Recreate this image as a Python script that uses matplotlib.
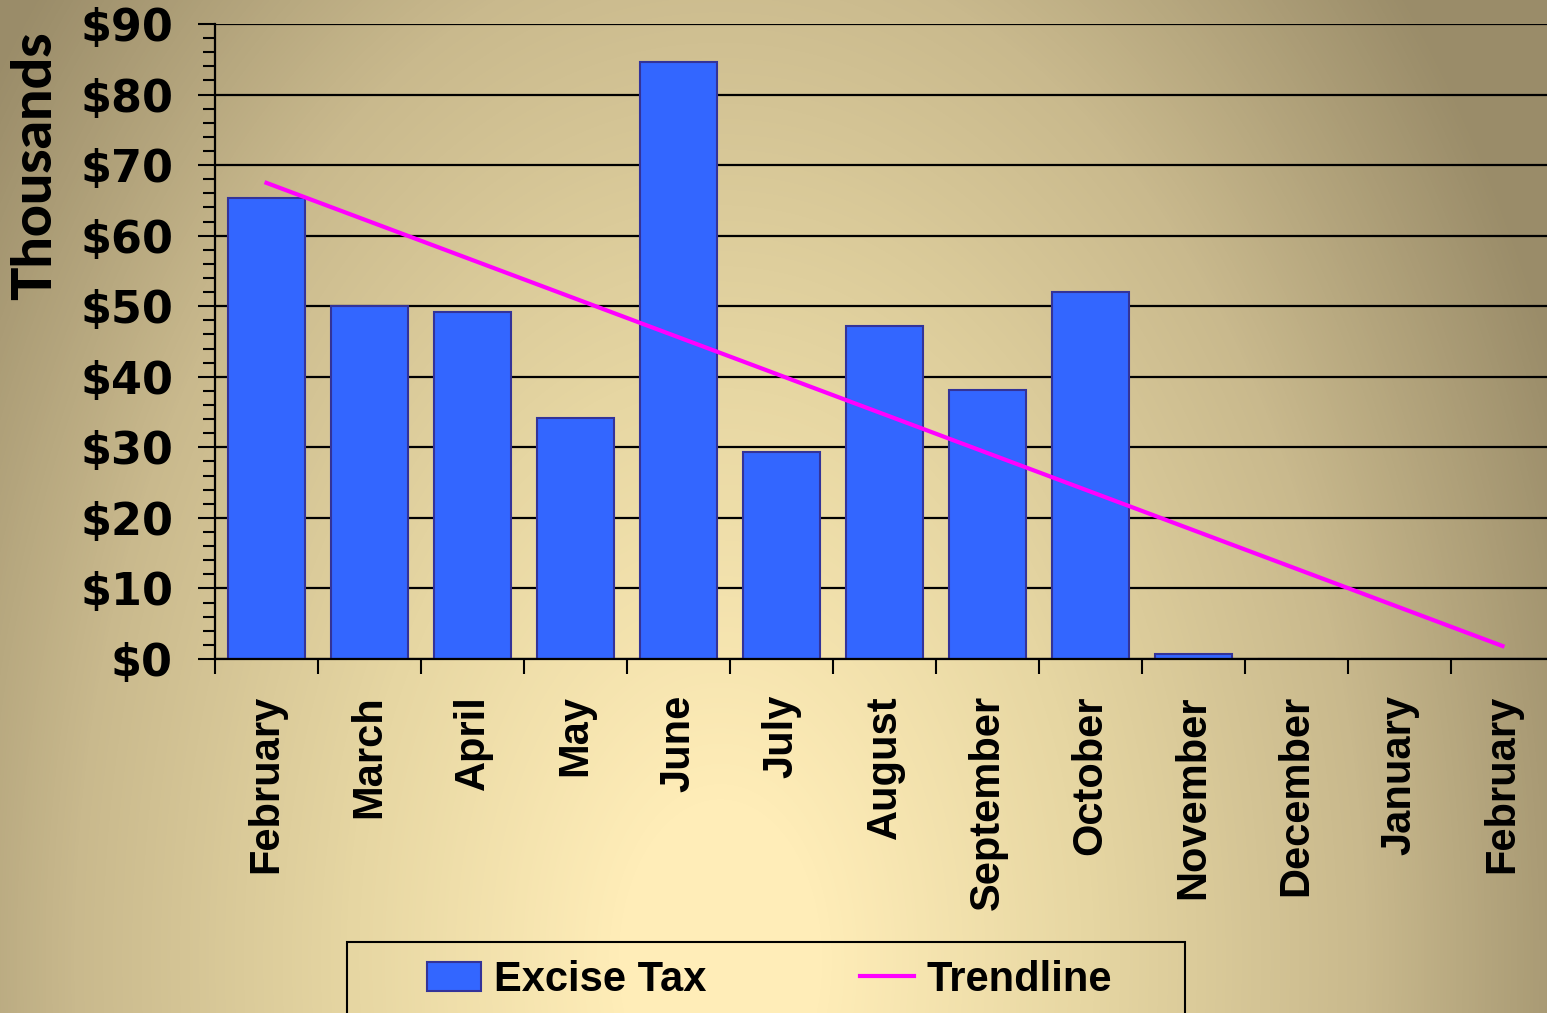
import numpy as np
import matplotlib.pyplot as plt
from matplotlib.colors import LinearSegmentedColormap
from matplotlib.patches import Patch, Rectangle
from matplotlib.lines import Line2D

# data (thousands of dollars)
months = ["February", "March", "April", "May", "June", "July", "August",
          "September", "October", "November", "December", "January", "February"]
excise_tax = [65.3, 50.0, 49.2, 34.2, 84.6, 29.3, 47.2, 38.1, 52.0, 0.7, 0.0, 0.0, 0.0]
y_ticks = [0, 10, 20, 30, 40, 50, 60, 70, 80, 90]
y_labels = ["$" + str(v) for v in y_ticks]

W, H = 1547, 1013
PX = 72 / 100  # points per pixel at dpi 100
fig = plt.figure(figsize=(W / 100, H / 100), dpi=100)

# background gradient (elliptical, bright near bottom centre)
bg = fig.add_axes([0, 0, 1, 1])
xx, yy = np.meshgrid(np.arange(W), np.arange(H))
d = np.sqrt(((xx - 720) / 820.0) ** 2 + ((yy - 960) / 1300.0) ** 2)
t = np.clip((d - 0.12) / 1.0, 0, 1)
cmap = LinearSegmentedColormap.from_list("bg", ["#FFEDB8", "#E6D6A2", "#C9B98D", "#9A8C69"])
bg.imshow(t, cmap=cmap, vmin=0, vmax=1, aspect="auto", interpolation="bilinear")
bg.axis("off")

# plot area: left 215px, right edge of figure, top y=24, bottom y=659
ax = fig.add_axes([215 / W, 1 - 659 / H, 1 - 215 / W, (659 - 24) / H])
ax.patch.set_alpha(0)

x = np.arange(len(months))
ax.bar(x, excise_tax, width=0.75, color="#3366FF", edgecolor="#333399", linewidth=1.5, zorder=3)

# linear trendline fitted to the series
slope, intercept = np.polyfit(x, excise_tax, 1)
ax.plot(x, slope * x + intercept, color="#FF00FF", linewidth=3, zorder=4)

ax.set_ylim(0, 90)
ax.set_xlim(-0.5, 12.5 - 7 / 103)
ax.set_yticks(y_ticks)
ax.set_yticklabels(y_labels, fontfamily="DejaVu Sans", fontweight="bold", fontsize=32)
ax.set_yticks(np.arange(0, 91, 2), minor=True)
for v in y_ticks:
    ax.axhline(v, color="black", linewidth=1.6, zorder=1)

ax.set_xticks(x)
ax.set_xticklabels(months, rotation=90, fontfamily="Liberation Sans", fontweight="bold",
                   fontsize=30, va="top")
ax.set_xticks(np.arange(-0.5, 12, 1), minor=True)
ax.tick_params(axis="x", which="major", length=0, pad=36 * PX)
ax.tick_params(axis="x", which="minor", length=15 * PX, width=1.5, direction="out")
ax.tick_params(axis="y", which="major", length=17 * PX, width=1.5, direction="out", pad=25 * PX)
ax.tick_params(axis="y", which="minor", length=12 * PX, width=1.5, direction="out")

for s in ["top", "right"]:
    ax.spines[s].set_visible(False)
for s in ["left", "bottom"]:
    ax.spines[s].set_linewidth(1.6)
    ax.spines[s].set_zorder(5)

fig.text(35 / W, 1 - 166 / H, "Thousands", rotation=90, ha="center", va="center",
         fontfamily="Lato", fontweight="black", fontsize=40)

# legend box runs off the bottom of the figure
fig.patches.append(Rectangle((347 / W, -0.02), (1185 - 347) / W, 0.02 + (1013 - 942) / H,
                             transform=fig.transFigure, facecolor="none", edgecolor="black",
                             linewidth=1.5))
handles = [Patch(facecolor="#3366FF", edgecolor="#333399", linewidth=1.5, label="Excise Tax"),
           Line2D([0], [0], color="#FF00FF", linewidth=3, label="Trendline")]
fig.legend(handles=handles, loc="center left", bbox_to_anchor=(427 / W, 1 - 980 / H),
           ncol=2, frameon=False,
           prop={"family": "Liberation Sans", "weight": "bold", "size": 30},
           handlelength=1.3, handleheight=0.7, handletextpad=0.3, columnspacing=3.7,
           borderpad=0, borderaxespad=0)

fig.savefig("out.png", dpi=100)
